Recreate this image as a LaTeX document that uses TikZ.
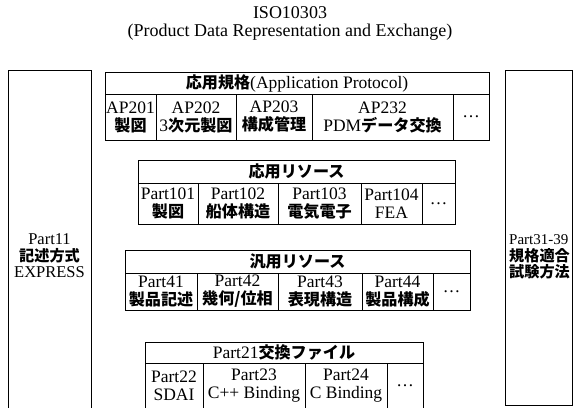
\documentclass[tikz,border=0pt]{standalone}
\usepackage{fontspec}
\setmainfont{Liberation Serif}
\newfontfamily\jpfont[Scale=0.92]{Noto Sans CJK JP}
\newcommand\J[1]{{\jpfont\bfseries #1}}
\newcommand\JS[1]{{\jpfont\bfseries\fontsize{16.5}{16.5}\selectfont #1}}
\tikzset{
  frame/.style={draw, line width=0.7pt},
  cell/.style={draw, line width=0.7pt, inner sep=0pt, align=center, anchor=center,
    font=\fontsize{17.5}{18}\selectfont},
  sidetext/.style={inner sep=0pt, align=center, font=\fontsize{16.5}{16.5}\selectfont},
}
\begin{document}
\begin{tikzpicture}[x=1pt,y=-1pt]
\clip (0,0) rectangle (580,407);
\fill[white] (0,0) rectangle (580,407);

% title
\node[inner sep=0pt, align=center, font=\fontsize{18}{18}\selectfont] (title) at (290,23)
  {ISO10303\\(Product Data Representation and Exchange)};

% side boxes
\draw[frame] (8,420) -- (8,70) -- (91,70) -- (91,420);
\node[sidetext] (p11) at (49.5,256) {Part11\\\J{記述方式}\\EXPRESS};
\draw[frame] (505,70) rectangle (572,405);
\node[sidetext, align=left, anchor=west, font=\fontsize{15}{16.5}\selectfont] (p31) at (509,257) {Part31-39\\\JS{規格適合}\\\JS{試験方法}};

% Application protocols
\node[cell, minimum width=384pt, minimum height=22pt] (apH) at (297,83) {\J{応用規格}(Application Protocol)};
\node[cell, minimum width=51pt, minimum height=46pt] (ap201) at (130.5,117) {AP201\\\J{製図}};
\node[cell, minimum width=80pt, minimum height=46pt] (ap202) at (196,117) {AP202\\3\J{次元製図}};
\node[cell, minimum width=76pt, minimum height=46pt] (ap203) at (274,117) {AP203\\\J{構成管理}};
\node[cell, minimum width=141pt, minimum height=46pt] (ap232) at (382.5,117) {AP232\\PDM\J{データ交換}};
\node[cell, minimum width=36pt, minimum height=46pt] (apX) at (471,117) {\dots};

% application resources
\node[cell, minimum width=317pt, minimum height=23pt] (arH) at (296.5,171.5) {\J{応用リソース}};
\node[cell, minimum width=60pt, minimum height=41pt] (p101) at (168,203.5) {Part101\\\J{製図}};
\node[cell, minimum width=80pt, minimum height=41pt] (p102) at (238,203.5) {Part102\\\J{船体構造}};
\node[cell, minimum width=83pt, minimum height=41pt] (p103) at (319.5,203.5) {Part103\\\J{電気電子}};
\node[cell, minimum width=61pt, minimum height=41pt] (p104) at (391.5,203.5) {Part104\\FEA};
\node[cell, minimum width=33pt, minimum height=41pt] (arX) at (438.5,203.5) {\dots};

% generic resources
\node[cell, minimum width=345pt, minimum height=23pt] (grH) at (297.5,261.5) {\J{汎用リソース}};
\node[cell, minimum width=72pt, minimum height=37pt] (p41) at (161,291.5) {Part41\\\J{製品記述}};
\node[cell, minimum width=81pt, minimum height=37pt] (p42) at (237.5,291.5) {Part42\\\J{幾何/位相}};
\node[cell, minimum width=84pt, minimum height=37pt] (p43) at (320,291.5) {Part43\\\J{表現構造}};
\node[cell, minimum width=71pt, minimum height=37pt] (p44) at (397.5,291.5) {Part44\\\J{製品構成}};
\node[cell, minimum width=37pt, minimum height=37pt] (grX) at (451.5,291.5) {\dots};

% Part21
\node[cell, minimum width=278pt, minimum height=21pt] (p21H) at (284,352.5) {Part21\J{交換ファイル}};
\node[cell, minimum width=58pt, minimum height=46pt] (p22) at (174,386) {Part22\\SDAI};
\node[cell, minimum width=102pt, minimum height=46pt] (p23) at (254,386) {Part23\\C++ Binding};
\node[cell, minimum width=82pt, minimum height=46pt] (p24) at (346,386) {Part24\\C Binding};
\node[cell, minimum width=36pt, minimum height=46pt] (p2X) at (405,386) {\dots};
\end{tikzpicture}
\end{document}
